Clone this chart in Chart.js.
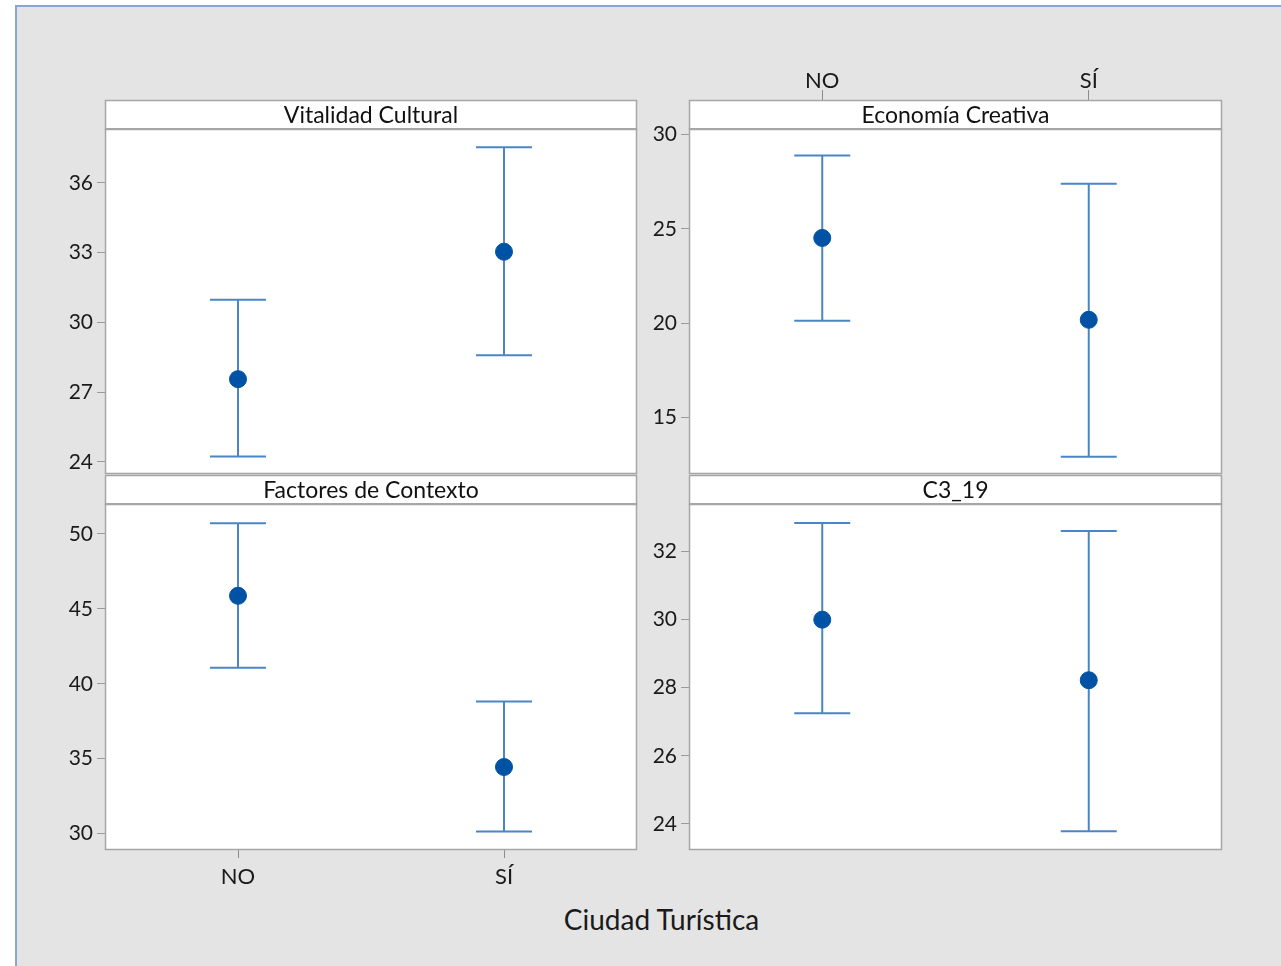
<!DOCTYPE html>
<html>
<head>
<meta charset="utf-8">
<script src="https://cdn.jsdelivr.net/npm/chart.js@4.4.0/dist/chart.umd.min.js"></script>
<style>
  body { margin: 0; width: 1281px; height: 966px; background: #fff; position: relative; overflow: hidden; font-family: Lato, sans-serif; }
  #frame { position: absolute; left: 15px; top: 5px; right: 0; bottom: 0; background: #e4e4e4; border-left: 2px solid #8aa5d5; border-top: 2px solid #8aa5d5; }
  canvas { position: absolute; }
  #xtitle { position: absolute; left: 0; width: 1323px; top: 899px; text-align: center; font-size: 28px; color: #1a1a1a; line-height: 40px; }
</style>
</head>
<body>
<div id="frame"></div>
<div id="xtitle">Ciudad Turística</div>
<script>
// categories
const categories = ["NO", "SÍ"];

// Vitalidad Cultural
const vcMean = [27.56, 33.04];
const vcLow = [24.23, 28.59];
const vcHigh = [30.97, 37.53];
const vcTicks = [24, 27, 30, 33, 36];

// Economía Creativa
const ecMean = [24.52, 20.18];
const ecLow = [20.13, 12.91];
const ecHigh = [28.89, 27.40];
const ecTicks = [15, 20, 25, 30];

// Factores de Contexto
const fcMean = [45.87, 34.44];
const fcLow = [41.07, 30.13];
const fcHigh = [50.72, 38.82];
const fcTicks = [30, 35, 40, 45, 50];

// C3_19
const c3Mean = [30.0, 28.22];
const c3Low = [27.25, 23.78];
const c3High = [32.84, 32.61];
const c3Ticks = [24, 26, 28, 30, 32];

const STRIP = 29;
const lineBlue = "#4a86c6";
const dotBlue = "#0053a4";
const frameGray = "#a6a6a6";

const panels = [
    { title: "Vitalidad Cultural", L: 105, R: 637, T: 100, B: 474, mean: vcMean, low: vcLow, high: vcHigh, ticks: vcTicks, min: 23.48, max: 38.32, xPos: null },
    { title: "Economía Creativa", L: 689, R: 1222, T: 100, B: 474, mean: ecMean, low: ecLow, high: ecHigh, ticks: ecTicks, min: 12.0, max: 30.3, xPos: "top" },
    { title: "Factores de Contexto", L: 105, R: 637, T: 475, B: 850, mean: fcMean, low: fcLow, high: fcHigh, ticks: fcTicks, min: 28.9, max: 52.0, xPos: "bottom" },
    { title: "C3_19", L: 689, R: 1222, T: 475, B: 850, mean: c3Mean, low: c3Low, high: c3High, ticks: c3Ticks, min: 23.23, max: 33.40, xPos: null }
];

const panelPlugin = {
    id: "panelStrip",
    beforeDraw(chart) {
        const { ctx, chartArea: a } = chart;
        ctx.save();
        ctx.fillStyle = "#fff";
        ctx.fillRect(a.left, a.top, a.right - a.left, a.bottom - a.top);
        ctx.restore();
    },
    beforeDatasetsDraw(chart) {
        const { ctx } = chart;
        const y = chart.scales.y;
        chart.data.datasets.forEach((ds, di) => {
            const meta = chart.getDatasetMeta(di);
            meta.data.forEach((pt, i) => {
                const x = pt.x;
                const yl = y.getPixelForValue(ds.errLow[i]);
                const yh = y.getPixelForValue(ds.errHigh[i]);
                ctx.save();
                ctx.strokeStyle = lineBlue;
                ctx.lineWidth = 2;
                ctx.beginPath();
                ctx.moveTo(x, yl); ctx.lineTo(x, yh);
                ctx.moveTo(x - 28, yl); ctx.lineTo(x + 28, yl);
                ctx.moveTo(x - 28, yh); ctx.lineTo(x + 28, yh);
                ctx.stroke();
                ctx.restore();
            });
        });
    },
    afterDraw(chart, args, opts) {
        const { ctx, chartArea: a } = chart;
        ctx.save();
        // plot frame
        ctx.strokeStyle = frameGray;
        ctx.lineWidth = 1.5;
        ctx.strokeRect(a.left + 0.5, a.top, a.right - a.left - 1, a.bottom - a.top - 0.5);
        // title strip
        ctx.fillStyle = "#fff";
        ctx.fillRect(a.left, a.top - STRIP, a.right - a.left, STRIP);
        ctx.strokeRect(a.left + 0.5, a.top - STRIP + 0.5, a.right - a.left - 1, STRIP);
        ctx.lineWidth = 2;
        ctx.beginPath();
        ctx.moveTo(a.left, a.top); ctx.lineTo(a.right, a.top);
        ctx.stroke();
        ctx.fillStyle = "#111";
        ctx.font = "23px Lato, sans-serif";
        ctx.textAlign = "center";
        ctx.textBaseline = "middle";
        ctx.fillText(opts.title, (a.left + a.right) / 2, a.top - STRIP / 2 + 1);
        ctx.restore();
    }
};

panels.forEach((p) => {
    const cv = document.createElement("canvas");
    const w = p.R - p.L + 80;
    const h = p.B - p.T + 95;
    cv.width = w; cv.height = h;
    cv.style.left = (p.L - 70) + "px";
    cv.style.top = (p.T - 45) + "px";
    cv.style.width = w + "px";
    cv.style.height = h + "px";
    document.body.appendChild(cv);

    new Chart(cv.getContext("2d"), {
        type: "line",
        data: {
            labels: categories,
            datasets: [{
                data: p.mean,
                errLow: p.low,
                errHigh: p.high,
                showLine: false,
                pointRadius: 8.5,
                pointHoverRadius: 8.5,
                pointBackgroundColor: dotBlue,
                pointBorderColor: dotBlue,
                pointBorderWidth: 1
            }]
        },
        options: {
            responsive: false,
            animation: false,
            events: [],
            layout: { padding: { left: 0, right: 10, top: p.xPos === "top" ? 0 : 74, bottom: p.xPos === "bottom" ? 0 : 50 } },
            plugins: {
                legend: { display: false },
                tooltip: { enabled: false },
                panelStrip: { title: p.title }
            },
            scales: {
                x: {
                    type: "category",
                    offset: true,
                    display: p.xPos !== null,
                    position: p.xPos || "bottom",
                    grid: { drawOnChartArea: false, drawTicks: true, tickLength: p.xPos === "top" ? 39 : 8, tickColor: "#8c8c8c" },
                    border: { display: false },
                    ticks: { padding: p.xPos === "top" ? -4 : 6, color: "#1a1a1a", font: { family: "Lato", size: 22 } },
                    afterFit(s) { if (p.xPos) s.height = p.xPos === "top" ? 74 : 50; }
                },
                y: {
                    min: p.min,
                    max: p.max,
                    afterBuildTicks(s) { s.ticks = p.ticks.map(v => ({ value: v })); },
                    afterFit(s) { s.width = 70; },
                    grid: { drawOnChartArea: false, tickLength: 8, tickColor: "#9a9a9a" },
                    border: { display: false },
                    ticks: { padding: 4, color: "#1a1a1a", font: { family: "Lato", size: 21 } }
                }
            }
        },
        plugins: [panelPlugin]
    });
});
</script>
</body>
</html>
